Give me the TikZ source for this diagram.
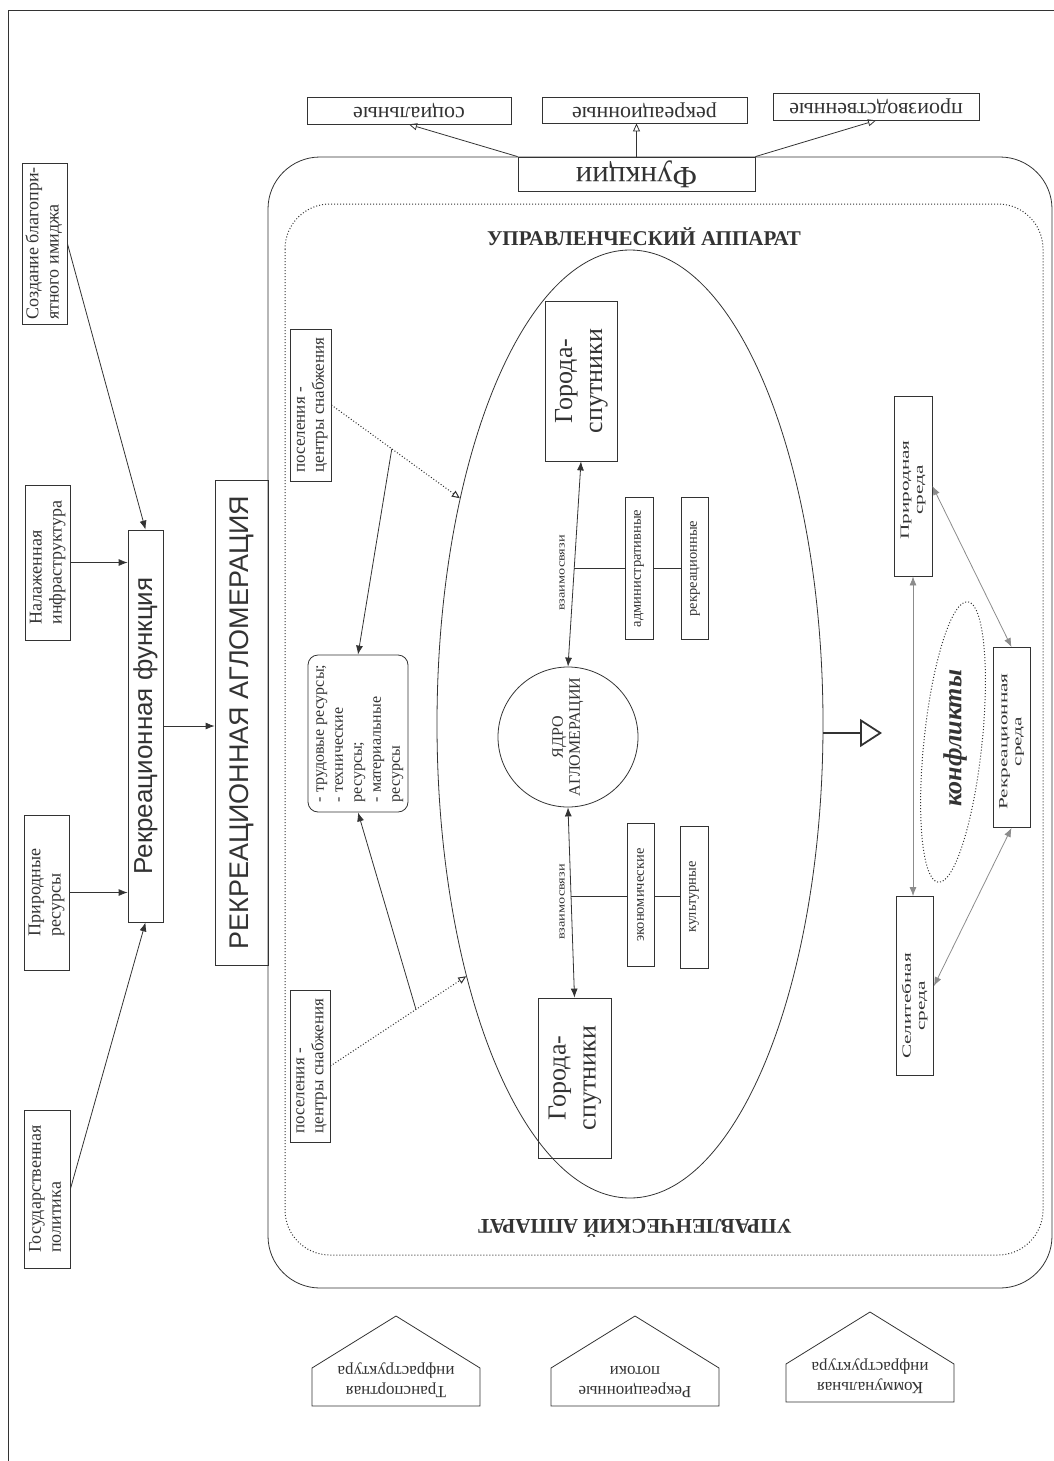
\documentclass[tikz,border=0pt]{standalone}
\usepackage{fontspec}
\setmainfont{Liberation Serif}
\setsansfont{Liberation Sans}
\usepackage{graphicx}
\usetikzlibrary{arrows.meta,shapes.geometric}

\newcommand{\fs}[2]{\fontsize{#1}{#2}\selectfont}
\newcommand{\vtxt}[2][l]{\rotatebox{90}{\begin{tabular}{@{}#1@{}}#2\end{tabular}}}
\newcommand{\utxt}[1]{\rotatebox{180}{\begin{tabular}{@{}c@{}}#1\end{tabular}}}
% narrow, drawn-out text of the environment boxes
\newcommand{\ntxt}[2][0pt]{\rotatebox{90}{\scalebox{1.7}[1]{\begin{tabular}{@{}c@{}}#2\end{tabular}}\hspace{#1}}}

\tikzstyle{box}=[draw, rectangle, inner sep=0pt]
\tikzstyle{leftbox}=[box, font=\fs{18}{20}]
\tikzstyle{topbox}=[box, font=\fs{22}{24}]
\tikzstyle{linkbox}=[box, font=\fs{14.5}{16}]
\tikzstyle{envbox}=[box, font=\fs{12.5}{14}]
\tikzstyle{posbox}=[box, font=\fs{17}{19}]
\tikzstyle{cityb}=[box, font=\fs{26}{30}]
\tikzstyle{openarr}=[-{Triangle[open, length=8pt, width=7pt]}]

\begin{document}
\begin{tikzpicture}[x=1pt, y=-1pt, line width=0.8pt, color=black!80,
    >={Latex[length=9pt, width=7pt]}]
\useasboundingbox (0,0) rectangle (1054,1461);
% frame
\draw (8,1461) -- (8,10) -- (1054,10);
% agglomeration and management contour
\draw[rounded corners=52pt] (268,157) rectangle (1052,1288);
\draw[dotted, line width=1pt, rounded corners=45pt] (285,204) rectangle (1043,1255);

% factors
\node[leftbox, minimum width=45pt, minimum height=161pt] (sozd) at (44.5,243.5) {\vtxt{Создание благопри-\\ятного имиджа}};
\node[leftbox, minimum width=45pt, minimum height=155pt] (nalazh) at (47.5,562.5) {\vtxt{Налаженная\\инфраструктура}};
\node[leftbox, minimum width=45pt, minimum height=155pt] (prir) at (46.5,892.5) {\vtxt{Природные\\ресурсы}};
\node[leftbox, minimum width=46pt, minimum height=158pt] (gos) at (47,1189) {\vtxt{Государственная\\политика}};

\node[box, minimum width=35pt, minimum height=392pt, font=\sffamily\fs{26}{28}] (rf) at (145.5,726) {\rotatebox{90}{Рекреационная функция}};
\node[box, minimum width=53pt, minimum height=485pt, font=\sffamily\fs{27}{30}] (ra) at (241.5,722.5) {\rotatebox{90}{РЕКРЕАЦИОННАЯ АГЛОМЕРАЦИЯ}};

\draw[->] (sozd.east) -- (rf.north);
\draw[->] (nalazh.east) -- (nalazh.east -| rf.west);
\draw[->] (prir.east) -- (prir.east -| rf.west);
\draw[->] (gos.east) -- (rf.south);
\draw[->] (rf.east) -- (rf.east -| ra.west);

% functions
\node[box, fill=white, minimum width=237pt, minimum height=34pt, font=\fs{31}{32}] (funk) at (636.5,174) {\rotatebox{180}{Функции}};
\node[topbox, minimum width=204pt, minimum height=27pt] (soc) at (409,110.5) {\rotatebox{180}{социальные}};
\node[topbox, minimum width=205pt, minimum height=26pt] (rekrf) at (644.5,110) {\rotatebox{180}{рекреационные}};
\node[topbox, minimum width=206pt, minimum height=27pt] (proizv) at (876,106.5) {\rotatebox{180}{производственные}};
\draw[openarr] (funk.north west) -- (soc.south);
\draw[openarr] (funk.north) -- (funk.north |- rekrf.south);
\draw[openarr] (funk.north east) -- (proizv.south);

\node[font=\bfseries\fs{21}{23}] (upr1) at (644,237) {УПРАВЛЕНЧЕСКИЙ АППАРАТ};
\node[font=\bfseries\fs{21}{23}, rotate=180] (upr2) at (635,1228) {УПРАВЛЕНЧЕСКИЙ АППАРАТ};

% agglomeration
\node[draw, ellipse, minimum width=386pt, minimum height=948pt, inner sep=0pt] (ell) at (630,724) {};
\node[cityb, minimum width=72pt, minimum height=160pt] (gs1) at (581,381) {\vtxt[c]{Города-\\спутники}};
\node[cityb, minimum width=73pt, minimum height=160pt] (gs2) at (574.5,1078) {\vtxt[c]{Города-\\спутники}};
\node[draw, circle, minimum size=140pt, inner sep=0pt, font=\fs{16}{17}] (core) at (568,737) {\vtxt[c]{ЯДРО\\АГЛОМЕРАЦИИ}};

\draw[<->] (core.north) -- (gs1.south) coordinate[pos=0.48] (b1);
\draw[<->] (core.south) -- (gs2.north) coordinate[pos=0.47] (b2);
\node[font=\fs{11}{12}] (vz1) at (562,573) {\rotatebox{90}{\scalebox{1.3}[1]{взаимосвязи}}};
\node[font=\fs{11}{12}] (vz2) at (562,902) {\rotatebox{90}{\scalebox{1.3}[1]{взаимосвязи}}};

\node[linkbox, minimum width=28pt, minimum height=142pt] (adm) at (639,568.5) {\rotatebox{90}{административные}};
\node[linkbox, minimum width=27pt, minimum height=142pt] (rekr) at (695,568.5) {\rotatebox{90}{рекреационные}};
\node[linkbox, minimum width=27pt, minimum height=143pt] (econ) at (640.5,895) {\rotatebox{90}{экономические}};
\node[linkbox, minimum width=28pt, minimum height=142pt] (cult) at (694,897) {\rotatebox{90}{культурные}};
\draw (b1) -- (b1 -| adm.west);
\draw (adm.east) -- (rekr.west);
\draw (b2) -- (b2 -| econ.west);
\draw (b2 -| econ.east) -- (b2 -| cult.west);

% resources
\node[draw, rounded corners=10pt, minimum width=100pt, minimum height=157pt, inner sep=0pt, font=\fs{16}{19}] (res) at (358,733.5) {\vtxt{- трудовые ресурсы;\\- технические\\ресурсы;\\- материальные\\ресурсы}};
\node[posbox, minimum width=41pt, minimum height=152pt] (pos1) at (310.5,405) {\vtxt{поселения -\\центры снабжения}};
\node[posbox, minimum width=40pt, minimum height=152pt] (pos2) at (310,1066) {\vtxt{поселения -\\центры снабжения}};
\draw[dotted, line width=1pt, openarr] (pos1.east) -- (ell.127) coordinate[pos=0.47] (d1);
\draw[dotted, line width=1pt, openarr] (pos2.east) -- (ell.237) coordinate[pos=0.63] (d2);
\draw[->] (d1) -- (res.north);
\draw[->] (d2) -- (res.south);

% result
\coordinate (bigtip) at (882,733);
\draw[line width=1.8pt, -{Triangle[open, length=22pt, width=28pt]}] (bigtip -| ell.east) -- (bigtip);

% environments
\node[envbox, minimum width=38pt, minimum height=180pt] (prsr) at (913,486) {\ntxt[8pt]{Природная\\среда}};
\node[envbox, minimum width=37pt, minimum height=180pt] (reksr) at (1011.5,737.5) {\ntxt[8pt]{Рекреационная\\среда}};
\node[envbox, minimum width=37pt, minimum height=179pt] (selsr) at (915,986) {\ntxt[40pt]{Селитебная\\среда}};
\draw[<->, black!45] (prsr.south) -- (prsr.south |- selsr.north);
\draw[<->, black!45] (prsr.east) -- (reksr.north);
\draw[<->, black!45] (reksr.south) -- (selsr.east);
\node[draw, dotted, line width=1pt, ellipse, minimum width=58pt, minimum height=282pt, rotate=-6] (konfl) at (953,742) {};
\node[font=\bfseries\itshape\fs{26}{28}] (konf) at (955,738) {\rotatebox{90}{конфликты}};

% flows
\foreach \px/\py/\nm/\txt in {396/1316/trans/{Транспортная\\инфраструктура},
    635/1316/potok/{Рекреационные\\потоки}, 870/1312/komm/{Коммунальная\\инфраструктура}}{
  \draw (\px,\py) -- ++(84,52) -- ++(0,38) -- ++(-168,0) -- ++(0,-38) -- cycle;
  \node[font=\fs{17}{20}] (\nm) at (\px,\py+64) {\utxt{\txt}};
}
\end{tikzpicture}
\end{document}
